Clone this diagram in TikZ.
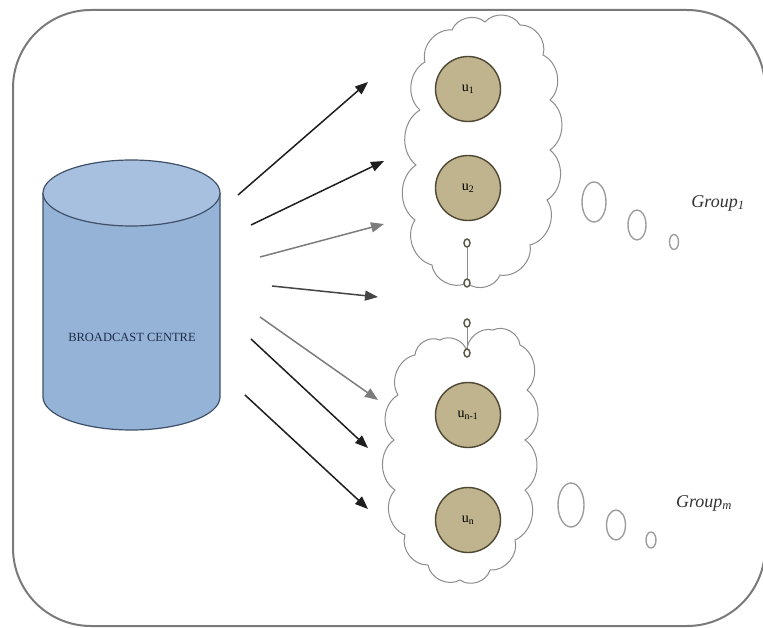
\documentclass[tikz,border=0pt]{standalone}
\usepackage{fontspec}
\setmainfont{Liberation Serif}
\usetikzlibrary{arrows.meta,shapes.geometric}

\definecolor{framegray}{HTML}{7A7A7A}
\definecolor{cloudgray}{HTML}{8C8C8C}
\definecolor{cylbody}{HTML}{95B3D7}
\definecolor{cyltop}{HTML}{A8C0DF}
\definecolor{cyledge}{HTML}{3F5069}
\definecolor{cyltext}{HTML}{1E2D4A}
\definecolor{userfill}{HTML}{C0B48E}
\definecolor{useredge}{HTML}{4D4632}
\definecolor{darkarrow}{HTML}{1E1E1E}
\definecolor{midarrow}{HTML}{454545}
\definecolor{lightarrow}{HTML}{7C7C7C}

\tikzset{
  frame/.style={draw=framegray, line width=2pt, rounded corners=78pt},
  cloudline/.style={draw=cloudgray, line width=1pt, fill=white},
  seam/.style={draw=cloudgray, line width=1pt},
  puff/.style={bend left=55},
  user/.style={circle, draw=useredge, fill=userfill, line width=1.4pt,
    minimum size=65pt, inner sep=0pt, font=\fontsize{14}{14}\selectfont},
  gapdot/.style={ellipse, draw=useredge!90, fill=white, line width=1.5pt,
    minimum width=6pt, minimum height=8pt, inner sep=0pt},
  bubble/.style={draw=cloudgray!85, line width=1.4pt},
  grouplabel/.style={font=\fontsize{18}{18}\selectfont\itshape, text=black!80},
  beam/.style={line width=1.5pt, -{Triangle[length=13pt,width=10pt]}},
}

\begin{document}
\begin{tikzpicture}[x=1pt,y=-1pt]
  \useasboundingbox (0,0) rectangle (763,628);

  % outer rounded frame
  \draw[frame] (13,10) rectangle (765,626);

  % broadcast centre cylinder
  \path[fill=cylbody, draw=cyledge, line width=1.2pt]
    (43,193) -- (43,397) arc[start angle=180, end angle=0, x radius=88.5, y radius=33] -- (220,193);
  \draw[fill=cyltop, draw=cyledge, line width=1.2pt]
    (131.5,193) ellipse[x radius=88.5, y radius=33];
  \node[font=\fontsize{12.5}{13}\selectfont, text=cyltext] (bc) at (132,337) {BROADCAST CENTRE};

  % cloud of the first group
  \path[cloudline]
    (420,110) to[puff] (425,62) to[puff] (452,30) to[puff] (485,22)
    to[puff] (520,25) to[puff] (543,55) to[puff] (550,100) to[puff] (550,150)
    to[puff] (547,200) to[puff] (530,245) to[puff] (500,275) to[puff] (467,283)
    to[puff] (432,265) to[puff] (415,220) to[puff] (416,165) to[puff] (420,110);

  % cloud of the last group
  \path[cloudline]
    (398,395) to[puff] (415,355) to[puff] (440,340) to[puff] (467,352)
    to[puff] (493,330) to[puff] (520,345) to[puff] (527,390) to[puff] (525,440)
    to[puff] (525,490) to[puff] (515,540) to[puff] (490,570) to[puff] (460,580)
    to[puff] (428,565) to[puff] (405,535) to[puff] (395,490) to[puff] (394,440)
    to[puff] (398,395);

  % users
  \node[user] (u1)  at (468,89)  {u\textsubscript{1}};
  \node[user] (u2)  at (468,188) {u\textsubscript{2}};
  \node[user] (un1) at (468,415) {u\textsubscript{n-1}};
  \node[user] (un)  at (468,520) {u\textsubscript{n}};

  % dots between the groups, on the cloud seams
  \coordinate (d1) at (467,243);
  \coordinate (d2) at (467,283);
  \coordinate (d3) at (467,323);
  \coordinate (d4) at (467,353);
  \draw[seam] (d1) -- (d2);
  \draw[seam] (d3) -- (d4);
  \node[gapdot] (g1a) at (d1) {};
  \node[gapdot] (g1b) at (d2) {};
  \node[gapdot] (gma) at (d3) {};
  \node[gapdot] (gmb) at (d4) {};

  % thought bubbles and group labels
  \draw[bubble] (594,202) ellipse[x radius=12, y radius=20];
  \draw[bubble] (637,225) ellipse[x radius=9, y radius=15];
  \draw[bubble] (674,242) ellipse[x radius=4.5, y radius=7.5];
  \node[grouplabel] (g1) at (718,203) {Group\textsubscript{1}};

  \draw[bubble] (571,505) ellipse[x radius=13, y radius=22];
  \draw[bubble] (616,525) ellipse[x radius=9.5, y radius=15];
  \draw[bubble] (651,540) ellipse[x radius=5, y radius=8];
  \node[grouplabel] (gm) at (704,503) {Group\textsubscript{m}};

  % broadcast beams
  \coordinate (s1) at (238,195); \coordinate (e1) at (368,82);
  \coordinate (s2) at (251,225); \coordinate (e2) at (384,161);
  \coordinate (s3) at (260,257); \coordinate (e3) at (384,224);
  \coordinate (s4) at (272,286); \coordinate (e4) at (378,297);
  \coordinate (s5) at (260,317); \coordinate (e5) at (378,400);
  \coordinate (s6) at (251,339); \coordinate (e6) at (368,448);
  \coordinate (s7) at (245,395); \coordinate (e7) at (368,509);

  \draw[beam, darkarrow]  (s1) -- (e1);
  \draw[beam, darkarrow]  (s2) -- (e2);
  \draw[beam, lightarrow] (s3) -- (e3);
  \draw[beam, midarrow]   (s4) -- (e4);
  \draw[beam, lightarrow] (s5) -- (e5);
  \draw[beam, darkarrow]  (s6) -- (e6);
  \draw[beam, darkarrow]  (s7) -- (e7);
\end{tikzpicture}
\end{document}
